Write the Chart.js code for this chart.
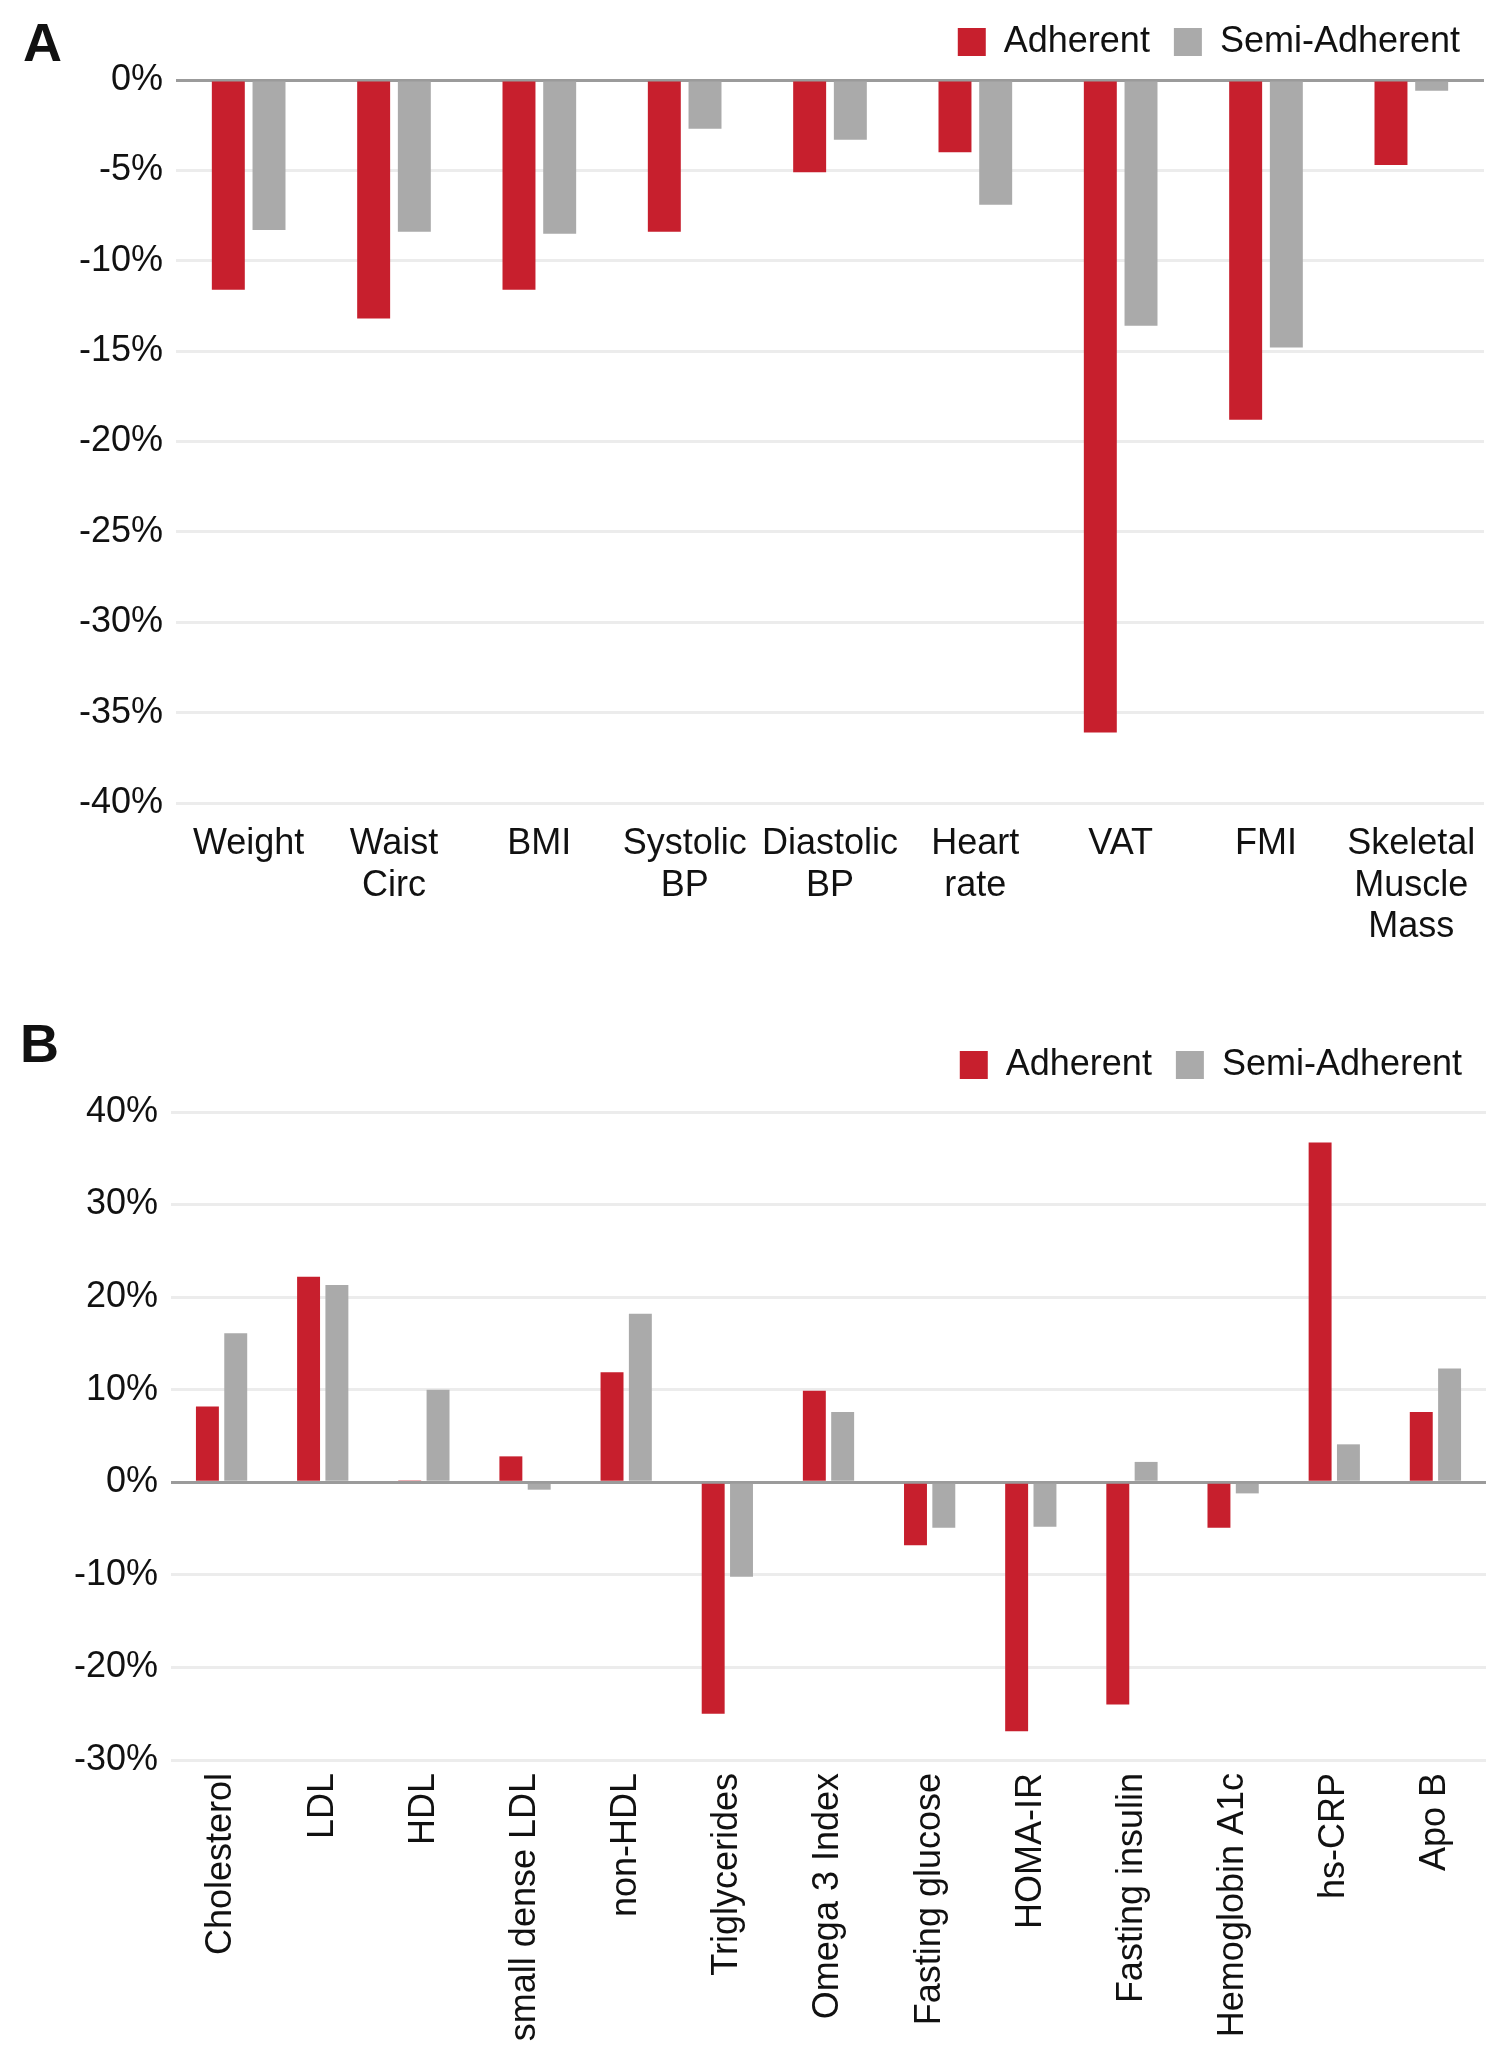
<!DOCTYPE html>
<html><head><meta charset="utf-8">
<script src="https://cdn.jsdelivr.net/npm/chart.js@4/dist/chart.umd.min.js"></script>
<style>
html,body{margin:0;padding:0;background:#fff;}
body{width:1501px;height:2048px;position:relative;overflow:hidden;font-family:"Liberation Sans",Arial,sans-serif;}
.panel{position:absolute;left:0;width:1501px;}
.letter{position:absolute;font-weight:bold;font-size:54px;color:#111;line-height:1;font-family:"Liberation Sans",Arial,sans-serif;}
</style></head><body>
<div class="panel" style="top:0;height:960px"><canvas id="cA"></canvas></div>
<div class="panel" style="top:1023px;height:1025px"><canvas id="cB"></canvas></div>
<div class="letter" style="left:23px;top:15px">A</div>
<div class="letter" style="left:20px;top:1016px">B</div>
<script>
// ---- Panel A data ----
const categoriesA = ['Weight', ['Waist','Circ'], 'BMI', ['Systolic','BP'], ['Diastolic','BP'], ['Heart','rate'], 'VAT', 'FMI', ['Skeletal','Muscle','Mass']];
const adherentA = [-11.6, -13.2, -11.6, -8.4, -5.1, -4.0, -36.1, -18.8, -4.7];
const semiA = [-8.3, -8.4, -8.5, -2.7, -3.3, -6.9, -13.6, -14.8, -0.6];
const yRangeA = [-40, 0, 5];

// ---- Panel B data ----
const categoriesB = ['Cholesterol','LDL','HDL','small dense LDL','non-HDL','Triglycerides','Omega 3 Index','Fasting glucose','HOMA-IR','Fasting insulin','Hemoglobin A1c','hs-CRP','Apo B'];
const adherentB = [8.2, 22.2, 0.2, 2.8, 11.9, -25.0, 9.9, -6.8, -26.9, -24.0, -4.9, 36.7, 7.6];
const semiB = [16.1, 21.3, 10.0, -0.8, 18.2, -10.2, 7.6, -4.9, -4.8, 2.2, -1.2, 4.1, 12.3];
const yRangeB = [-30, 40, 10];

const seriesNames = ['Adherent', 'Semi-Adherent'];
const RED = '#c71f2d', GREY = '#aaaaaa';
const FONT = "'Liberation Sans', Arial, sans-serif";
const TXT = '#111111';

function build(id, labels, a, s, range, o) {
  return new Chart(document.getElementById(id), {
    type: 'bar',
    data: {
      labels: labels,
      datasets: [
        {label: seriesNames[0], data: a, backgroundColor: RED, xAxisID: 'x', yAxisID: 'y', categoryPercentage: 0.56, barPercentage: 0.81},
        {label: seriesNames[1], data: s, backgroundColor: GREY, xAxisID: 'x', yAxisID: 'y', categoryPercentage: 0.56, barPercentage: 0.81}
      ]
    },
    options: {
      responsive: true, maintainAspectRatio: false, animation: false,
      layout: {padding: {top: 0, right: o.padRight, bottom: 0, left: 0}},
      plugins: {
        tooltip: {enabled: false},
        legend: {
          position: 'top', align: 'end',
          labels: {boxWidth: 28, boxHeight: 28, padding: 24, color: TXT, font: {family: FONT, size: 36}}
        }
      },
      scales: {
        x: {
          grid: {display: false}, border: {display: false},
          ticks: {color: TXT, font: {family: FONT, size: 36, lineHeight: 1.16}, padding: o.xPad,
                  autoSkip: false, minRotation: o.rot, maxRotation: o.rot},
          afterFit: sc => { sc.height = o.xHeight; }
        },
        y: {
          min: range[0], max: range[1],
          border: {display: false},
          grid: {drawTicks: false, lineWidth: 3,
                 color: c => (c.tick && c.tick.value === 0) ? '#9b9b9b' : '#ececec'},
          ticks: {stepSize: range[2], padding: 13, color: TXT, font: {family: FONT, size: 36},
                  callback: v => v + '%'},
          afterFit: sc => { sc.width = o.yWidth; }
        },
        spacer: {
          type: 'category', position: 'top', labels: [''],
          grid: {display: false}, border: {display: false}, ticks: {display: false},
          afterFit: sc => { sc.height = o.spacer; }
        }
      }
    }
  });
}

build('cA', categoriesA, adherentA, semiA, yRangeA,
      {padRight: 17, spacer: 10, xPad: 12, rot: 0, xHeight: 960 - 803, yWidth: 176});
build('cB', categoriesB, adherentB, semiB, yRangeB,
      {padRight: 15, spacer: 19, xPad: 5, rot: 90, xHeight: 1025 - 737, yWidth: 171});
</script>
</body></html>
